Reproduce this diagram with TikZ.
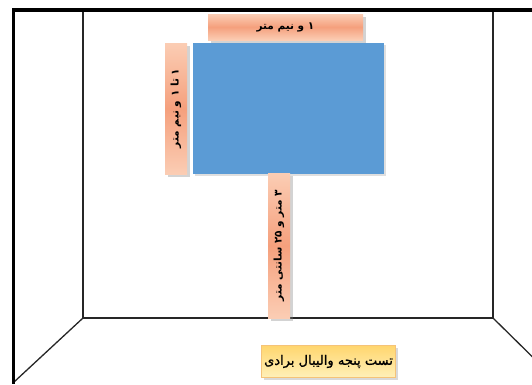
\documentclass[tikz,border=0pt]{standalone}
\usepackage{fontspec}
\usetikzlibrary{shadows}
\TeXXeTstate=1
\newfontfamily\arabicfont[Script=Arabic]{DejaVu Sans}
\newfontfamily\titlefont[Script=Arabic,FakeBold=1.2]{DejaVu Sans}
\definecolor{peach}{RGB}{245,160,125}
\definecolor{peachlight}{RGB}{251,205,180}
\definecolor{boardblue}{RGB}{91,155,213}
\definecolor{ylw}{RGB}{255,214,110}
\definecolor{ylwlight}{RGB}{255,240,185}
\definecolor{ylwedge}{RGB}{245,195,120}
\tikzset{
  wall/.style={line width=1.3pt, black!85},
  thickwall/.style={line width=4pt, black},
  hlabel/.style={top color=peachlight, bottom color=peachlight, middle color=peach,
    inner sep=0pt, font=\arabicfont\bfseries\fontsize{10.5}{12}\selectfont,
    drop shadow={shadow xshift=3pt, shadow yshift=-3pt, opacity=0.35}},
  vlabel/.style={hlabel, rotate=90},
  titlebox/.style={top color=ylw, bottom color=ylwlight, draw=ylwedge, line width=0.6pt,
    inner sep=0pt, font=\titlefont\fontsize{13}{15}\selectfont,
    drop shadow={shadow xshift=2.5pt, shadow yshift=-2.5pt, opacity=0.3}},
}
\begin{document}
\begin{tikzpicture}[x=1pt,y=-1pt]
\useasboundingbox (0,0) rectangle (532,384);
% room
\draw[wall] (83,11) -- (83,318) -- (493,318) -- (493,11);
\draw[wall] (83,318) -- (14,382);
\draw[wall] (493,318) -- (560,384);
\draw[thickwall] (12,10) -- (532,10);
\draw[line width=3.5pt] (13.5,9) -- (13.5,384);
% board
\node[fill=boardblue, minimum width=191pt, minimum height=131pt, inner sep=0pt,
  drop shadow={shadow xshift=2pt, shadow yshift=-2pt, opacity=0.25}] (board) at (288.5,108.5) {};
% labels
\node[hlabel, minimum width=155pt, minimum height=26pt] (top) at (285.5,27)
  {\beginR ۱ و نیم متر\endR};
\node[vlabel, minimum width=131pt, minimum height=22pt] (left) at (176,108.5)
  {\beginR ۱ تا ۱ و نیم متر\endR};
\node[vlabel, minimum width=145pt, minimum height=22pt] (height) at (279,245.5)
  {\beginR ۳ متر و \beginL۲۵\endL{} سانتی متر\endR};
\node[titlebox, minimum width=134pt, minimum height=32pt] (title) at (328.5,361.5)
  {\beginR تست پنجه والیبال برادی\endR};
\end{tikzpicture}
\end{document}
